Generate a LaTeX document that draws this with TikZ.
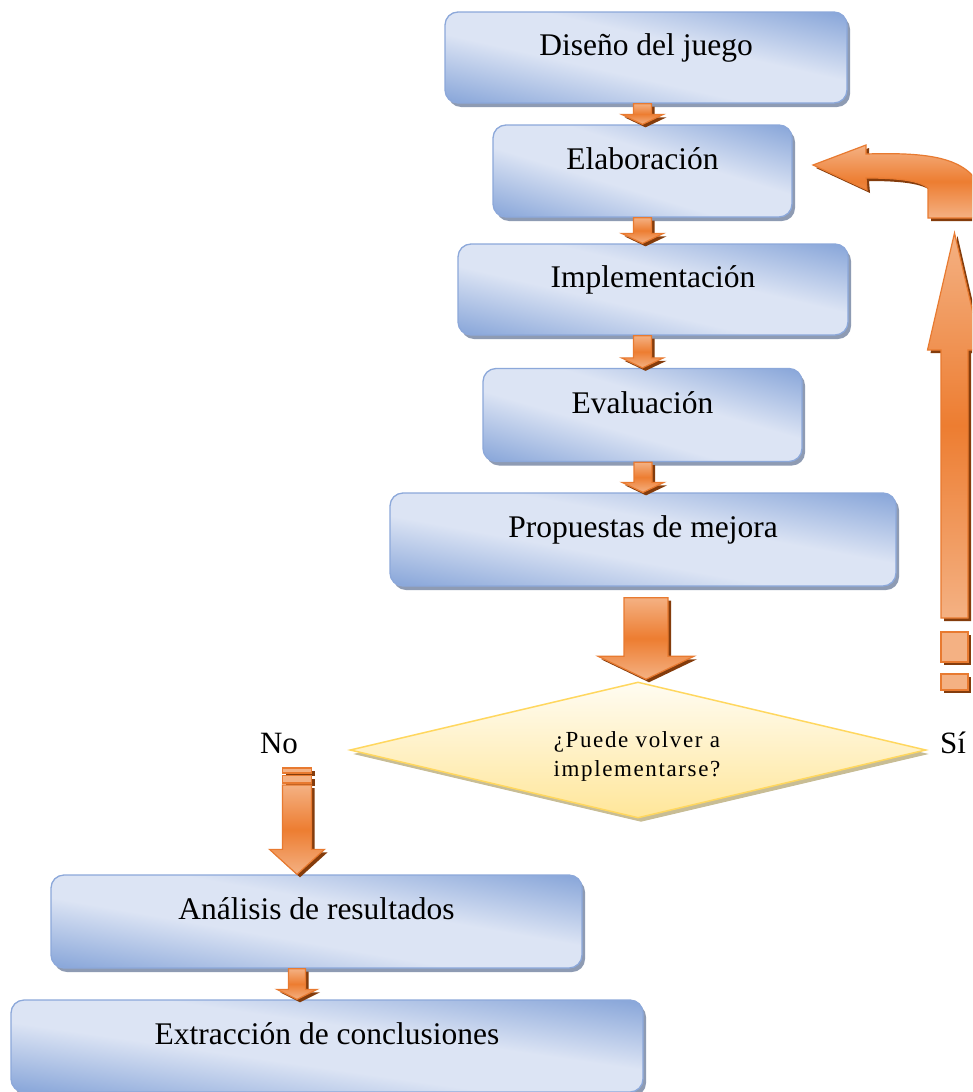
\documentclass[tikz,border=0pt]{standalone}
\usepackage{fontspec}
\setmainfont{Liberation Serif}
\newfontfamily\boxfont{Liberation Serif}
\newfontfamily\diafont[LetterSpace=7]{Liberation Serif}
\usetikzlibrary{calc,shapes.geometric,shadows}
\definecolor{bxlight}{HTML}{DCE4F4}
\definecolor{bxdark}{HTML}{8BA8DA}
\definecolor{bxborder}{HTML}{8CA8DA}
\definecolor{bxshadow}{HTML}{8E9BB3}
\definecolor{arrmid}{HTML}{ED7D31}
\definecolor{arrlight}{HTML}{F4B183}
\definecolor{arrborder}{HTML}{E87A30}
\definecolor{arrshadow}{HTML}{843C0C}
\definecolor{dtop}{HTML}{FFFCF2}
\definecolor{dbot}{HTML}{FFE699}
\definecolor{dborder}{HTML}{FFD75E}
\definecolor{dshadow}{HTML}{C8BD95}
\pgfdeclareverticalshading{bxv}{100bp}{color(0bp)=(bxdark); color(26bp)=(bxdark); color(44bp)=(bxlight); color(56bp)=(bxlight); color(74bp)=(bxdark); color(100bp)=(bxdark)}
\tikzset{
 box/.style={rectangle, rounded corners=13pt, draw=bxborder, line width=1.3pt,
   inner sep=0pt, text height=5pt, text depth=9pt,
   font=\boxfont\fontsize{31.5}{37}\selectfont},
 bxshad/.style={fill=bxshadow, rounded corners=13pt},
 arrbody/.style={draw=arrborder, line width=1.2pt, top color=arrlight, bottom color=arrlight, middle color=arrmid},
 arrshad/.style={fill=arrshadow, transform canvas={shift={(3pt,-3pt)}}},
 stripe/.style={draw=arrborder, line width=1.2pt, fill=arrlight},
 lbl/.style={font=\fontsize{31}{37}\selectfont, inner sep=0pt, anchor=base},
}
% shaded box: #1 name, #2 cx, #3 cy, #4 w, #5 h, #6 text
\newcommand\shbox[6]{%
  \pgfmathsetmacro\bxD{#5/sqrt(1+(#5/#4)^2)}%
  \pgfmathsetmacro\bxA{-atan(#5/#4)}%
  \fill[bxshad] ({#2-#4/2+3},{#3-#5/2+4}) rectangle ({#2+#4/2+3},{#3+#5/2+4});
  \begin{scope}
   \clip[rounded corners=13pt] ({#2-#4/2},{#3-#5/2}) rectangle ({#2+#4/2},{#3+#5/2});
   \shade[shading=bxv, transform canvas={shift={(#2,#3)}, rotate=\bxA}]
     (-#4pt,-\bxD pt) rectangle (#4pt,\bxD pt);
  \end{scope}
  \node[box, minimum width=#4pt, minimum height=#5pt] (#1) at (#2,#3) {#6};
}
% #1 tail point, #2 tip point, #3 shaft half width, #4 head half width, #5 signed head length
\newcommand\blockarrow[5]{%
 \path[arrshad] let \p1=(#1), \p2=(#2) in
  ({\x2-#3},{\y1}) -- ({\x2+#3},{\y1}) -- ({\x2+#3},{\y2+(#5)}) -- ({\x2+#4},{\y2+(#5)})
  -- ({\x2},{\y2}) -- ({\x2-#4},{\y2+(#5)}) -- ({\x2-#3},{\y2+(#5)}) -- cycle;
 \path[arrbody] let \p1=(#1), \p2=(#2) in
  ({\x2-#3},{\y1}) -- ({\x2+#3},{\y1}) -- ({\x2+#3},{\y2+(#5)}) -- ({\x2+#4},{\y2+(#5)})
  -- ({\x2},{\y2}) -- ({\x2-#4},{\y2+(#5)}) -- ({\x2-#3},{\y2+(#5)}) -- cycle;}
\begin{document}
\begin{tikzpicture}[x=1pt,y=-1pt]
\useasboundingbox (0,0) rectangle (972,1092);
\fill[white] (0,0) rectangle (972,1092);
\clip (0,0) rectangle (972,1092);

% boxes
\shbox{d1}{646}{57.5}{402}{91}{Diseño del juego}
\shbox{d2}{642.5}{171}{299}{92}{Elaboración}
\shbox{d3}{653}{289.5}{390}{91}{Implementación}
\shbox{d4}{642.5}{415}{319}{93}{Evaluación}
\shbox{d5}{643}{539.5}{506}{93}{Propuestas de mejora}
\shbox{d6}{316.5}{921.5}{531}{93}{Análisis de resultados}
\shbox{d7}{327}{1046}{632}{92}{Extracción de conclusiones}

% decision
\node[diamond, minimum width=576pt, minimum height=136pt, inner sep=0pt, draw=dborder, line width=1.5pt,
  top color=dtop, bottom color=dbot,
  drop shadow={shadow xshift=3pt, shadow yshift=-4pt, fill=dshadow, opacity=1}] (dec) at (638,750) {};
\node[font=\diafont\fontsize{23}{29}\selectfont, align=center, inner sep=0pt] (q) at (637,756) {¿Puede volver a\\implementarse?};

\node[lbl] (no) at (279,753) {No};
\node[lbl] (si) at (953,753) {Sí};

% small arrows
\coordinate (nox) at (297,0);
\blockarrow{d1.south}{d2.north}{9pt}{21pt}{10pt}
\blockarrow{d2.south}{d3.north -| d2.south}{9pt}{21pt}{10pt}
\blockarrow{d3.south}{d4.north}{9pt}{21pt}{10pt}
\blockarrow{d4.south}{d5.north}{9pt}{21pt}{10pt}
\blockarrow{d6.south}{d7.north -| nox}{8.5pt}{20pt}{10pt}

% big arrow to decision
\blockarrow{$(d5.south)+(0,11)$}{$(dec.north)+(8,-2)$}{22pt}{48pt}{23pt}

% No branch
\coordinate (notail) at (297,785);
\fill[arrshadow] (285.5,771) rectangle (314.5,776);
\draw[stripe] (282.5,768) rectangle (311.5,773);
\fill[arrshadow] (285.5,778.5) rectangle (314.5,786);
\draw[stripe] (282.5,775.5) rectangle (311.5,783);
\blockarrow{notail}{d6.north -| nox}{14.5pt}{27.5pt}{25pt}

% Si branch
\coordinate (sitail) at (954.5,618);
\coordinate (sitip) at (954.5,233);
\fill[arrshadow] (944,635) rectangle (971,665);
\draw[stripe] (941,632) rectangle (968,662);
\fill[arrshadow] (944,677) rectangle (971,693);
\draw[stripe] (941,674) rectangle (968,690);
\blockarrow{sitail}{sitip}{13.5pt}{27pt}{-117pt}

% loop back arrow to Elaboracion
\path[arrshad] (813,165) -- (866,145) -- (866,154) .. controls (935,152) and (975,158) .. (985,200)
  -- (985,218) -- (928,218) -- (928,188) .. controls (920,181) and (900,178) .. (866,178) -- (867,190) -- cycle;
\path[arrbody] (813,165) -- (866,145) -- (866,154) .. controls (935,152) and (975,158) .. (985,200)
  -- (985,218) -- (928,218) -- (928,188) .. controls (920,181) and (900,178) .. (866,178) -- (867,190) -- cycle;
\end{tikzpicture}
\end{document}
